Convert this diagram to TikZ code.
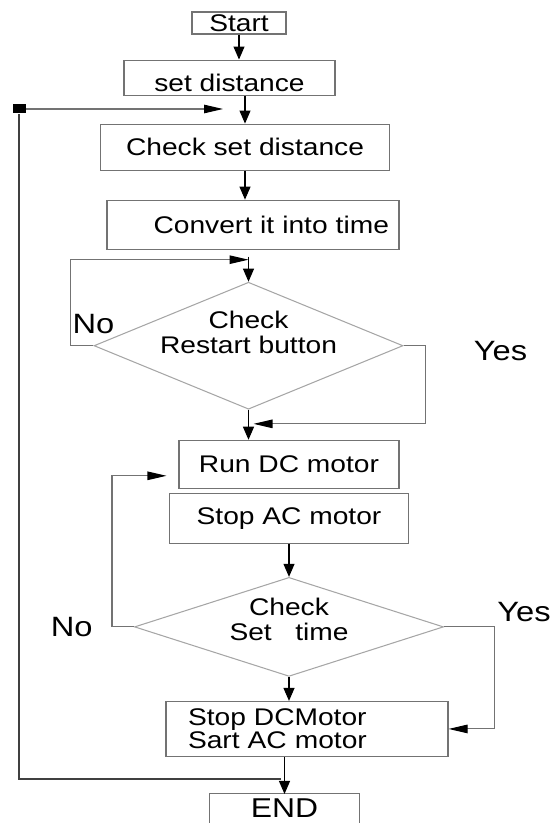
\documentclass[tikz,border=0pt]{standalone}
\usepackage{fontspec}
\setmainfont{Liberation Sans}[FakeStretch=1.17]
\usepackage{tikz}
\usetikzlibrary{arrows.meta}
\usetikzlibrary{calc}
\usetikzlibrary{positioning}
\usetikzlibrary{shapes.geometric}

\newcommand{\lifted}[2]{\raisebox{#1}[\height][\depth]{\begin{tabular}{@{}c@{}}#2\end{tabular}}}

\begin{document}
\begin{tikzpicture}
[
	box/.style	= {rectangle, draw = black!55, line width = 0.6pt, inner sep = 0cm, font = \fontsize{13.7}{13}\selectfont},
	test/.style	= {diamond, draw = black!35, line width = 0.6pt, inner sep = 0cm, align = center, font = \fontsize{13.7}{13.7}\selectfont},
	answer/.style	= {inner sep = 0cm, font = \fontsize{15.9}{16}\selectfont},
	flow/.style	= {-{Triangle[length = 0.26cm, width = 0.22cm]}, line width = 0.6pt},
	back/.style	= {-{Triangle[length = 0.38cm, width = 0.17cm, color = black]}, draw = black!55, line width = 0.6pt},
]
	\useasboundingbox (0,0) rectangle (11.14,-16.46);

	\node (start) [box, minimum width = 1.88cm, minimum height = 0.44cm] at (4.78,-0.46) {Start};
	\node (set) [box, below = 0.5cm of start, xshift = -0.19cm, minimum width = 4.22cm, minimum height = 0.7cm, text height = 0.54cm, text depth = 0cm] {set distance};
	\node (chkdist) [box, below = 0.56cm of set, xshift = 0.31cm, minimum width = 5.78cm, minimum height = 0.92cm] {Check set distance};
	\node (convert) [box, below = 0.58cm of chkdist, xshift = 0.16cm, minimum height = 0.98cm, text width = 5.44cm, inner xsep = 0.2cm, align = right] {Convert it into time};
	%
	\node (restart) [test, below = 0.64cm of convert, xshift = -0.09cm, aspect = 2.4, minimum width = 6.18cm, minimum height = 2.54cm] {\lifted{0.2cm}{Check\\Restart button}};
	\node (rundc) [box, below = 0.6cm of restart, xshift = 0.81cm, minimum width = 4.4cm, minimum height = 0.96cm] {Run DC motor};
	\node (stopac) [box, below = 0.08cm of rundc, minimum width = 4.78cm, minimum height = 1cm] {Stop AC motor};
	%
	\node (setime) [test, below = 0.66cm of stopac, aspect = 3.1, minimum width = 6.18cm, minimum height = 1.98cm] {\lifted{0.08cm}{Check\\Set~~~time}};
	\node (stopdc) [box, below = 0.48cm of setime, xshift = 0.36cm, minimum height = 1.1cm, text width = 4.76cm, inner xsep = 0.44cm, align = left] {Stop DCMotor\\Sart AC motor};
	\node (theend) [box, draw = none, below = 0.74cm of stopdc, xshift = -0.45cm, minimum width = 2.98cm, minimum height = 0.54cm, font = \fontsize{15.5}{16}\selectfont] {END};
	\draw [black!55, line width = 0.6pt] ([yshift = -0.4cm]theend.south west) -- (theend.north west) -- (theend.north east) -- ([yshift = -0.4cm]theend.south east);

	\node (no1) [answer, above = 0.24cm of restart.west] {No};
	\node (yes1) [answer, right = 1.4cm of restart.east, yshift = -0.1cm] {Yes};
	\node (no2) [answer, left = 0.82cm of setime.west] {No};
	\node (yes2) [answer, right = 1.06cm of setime.east, yshift = 0.3cm] {Yes};
	%
	\node (mark) [rectangle, fill = black, minimum width = 0.26cm, minimum height = 0.18cm, inner sep = 0cm] at (0.38,-2.18) {};

	\coordinate (top0) at ($(restart.north) + (0,0.44)$);
	\coordinate (join1) at ($(restart.south)!0.47!(restart.south |- rundc.north)$);
	\coordinate (join2) at ($(mark -| chkdist) + (-0.44,0)$);
	\coordinate (join3) at ($(theend.north) + (-0.08,0.3)$);

	\draw [flow] (start.south) -- (start.south |- set.north);
	\draw [flow] (set.south -| chkdist) -- (chkdist.north);
	\draw [flow] (chkdist.south) -- (chkdist.south |- convert.north);

	\draw [back] (restart.west) -- ++(-0.46,0) |- (top0);
	\draw [flow] ([yshift = 0.06cm]top0) -- (restart.north);
	\draw [back] (restart.east) -- ++(0.44,0) |- ([xshift = 0.1cm]join1);
	\draw [flow] (restart.south) -- (restart.south |- rundc.north);

	\draw [flow] (stopac.south -| setime) -- (setime.north);
	\draw [back] (setime.west) -- ++(-0.44,0) |- ([xshift = -0.24cm, yshift = 0.26cm]rundc.south west);
	\draw [back] (setime.east) -- ++(1,0) |- (stopdc.east);
	\draw [flow] (setime.south) -- (setime.south |- stopdc.north);
	\draw [flow] (stopdc.south -| theend) -- (theend.north);

	\draw [back] (mark) -- (join2);
	\draw [draw = black!75, line width = 0.7pt] (join3) -| (mark);


\end{tikzpicture}
\end{document}
